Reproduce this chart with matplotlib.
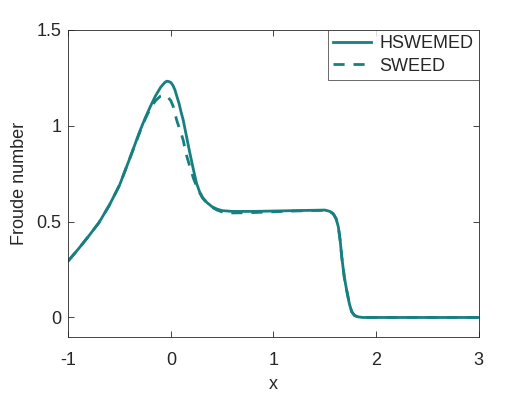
import matplotlib
matplotlib.use("Agg")
import matplotlib.pyplot as plt

x_hswemed = [-1.0, -0.9, -0.8, -0.7, -0.6, -0.5, -0.4, -0.3, -0.25, -0.2, -0.15, -0.1, -0.06, -0.04,
             -0.02, 0.0, 0.02, 0.04, 0.06, 0.08, 0.10, 0.12, 0.15, 0.186, 0.22, 0.25, 0.28, 0.31,
             0.35, 0.40, 0.45, 0.5, 0.6, 0.8, 1.0, 1.2, 1.4, 1.5, 1.55, 1.583, 1.61, 1.632, 1.65,
             1.665, 1.69, 1.713, 1.74, 1.762, 1.79, 1.826, 1.87, 2.5, 3.0]
y_hswemed = [0.295, 0.358, 0.425, 0.495, 0.585, 0.69, 0.83, 0.975, 1.04, 1.10, 1.155, 1.20, 1.225, 1.232,
             1.23, 1.225, 1.21, 1.186, 1.15, 1.115, 1.07, 1.03, 0.95, 0.855, 0.77, 0.70, 0.655, 0.625,
             0.60, 0.578, 0.565, 0.557, 0.553, 0.553, 0.555, 0.557, 0.559, 0.56, 0.553, 0.54, 0.515, 0.472, 0.40,
             0.316, 0.21, 0.142, 0.07, 0.03, 0.01, 0.003, 0.0, 0.0, 0.0]

x_sweed = [-1.0, -0.9, -0.8, -0.7, -0.6, -0.5, -0.4, -0.3, -0.25, -0.2, -0.15, -0.1, -0.07, -0.04,
           -0.016, 0.0, 0.023, 0.056, 0.08, 0.10, 0.12, 0.15, 0.186, 0.22, 0.25, 0.28, 0.31,
           0.35, 0.40, 0.45, 0.5, 0.6, 0.8, 1.0, 1.2, 1.4, 1.5, 1.55, 1.583, 1.61, 1.632, 1.65,
           1.665, 1.69, 1.713, 1.74, 1.762, 1.79, 1.826, 1.87, 2.5, 3.0]
y_sweed = [0.295, 0.358, 0.425, 0.495, 0.585, 0.69, 0.83, 0.97, 1.035, 1.09, 1.13, 1.155, 1.16, 1.155,
           1.14, 1.13, 1.10, 1.03, 0.99, 0.96, 0.925, 0.85, 0.785, 0.725, 0.685, 0.65, 0.622,
           0.597, 0.575, 0.56, 0.55, 0.545, 0.547, 0.551, 0.555, 0.558, 0.558, 0.553, 0.54, 0.515, 0.472, 0.40,
           0.316, 0.21, 0.142, 0.07, 0.03, 0.01, 0.003, 0.0, 0.0, 0.0]

x_ticks = [-1, 0, 1, 2, 3]
x_tick_labels = ["-1", "0", "1", "2", "3"]
y_ticks = [0, 0.5, 1, 1.5]
y_tick_labels = ["0", "0.5", "1", "1.5"]

plt.rcParams['font.family'] = ['Liberation Sans', 'DejaVu Sans']
color = '#177F80'
axcol = '#262626'
fs = 13

fig = plt.figure(figsize=(5.29, 3.97), dpi=100)
ax = fig.add_axes([0.129, 0.152, 0.776, 0.773])
ax.plot(x_hswemed, y_hswemed, '-', color=color, lw=2.0, label='HSWEMED',
        solid_joinstyle='round')
ax.plot(x_sweed, y_sweed, '--', color=color, lw=2.0, label='SWEED', dashes=(4, 3.2))
ax.set_xlim(-1, 3)
ax.set_ylim(-0.1, 1.5)
ax.set_xticks(x_ticks)
ax.set_xticklabels(x_tick_labels)
ax.set_yticks(y_ticks)
ax.set_yticklabels(y_tick_labels)
ax.tick_params(direction='in', top=True, right=True, length=4, width=0.6,
               colors=axcol, labelsize=fs)
ax.tick_params(axis='x', pad=11)
ax.tick_params(axis='y', pad=5)
for s in ax.spines.values():
    s.set_color(axcol)
    s.set_linewidth(0.6)
ax.set_xlabel('x', fontsize=fs, color=axcol, labelpad=5)
ax.set_ylabel('Froude number', fontsize=fs, color=axcol, labelpad=6)
leg = ax.legend(loc='upper right', fontsize=fs, frameon=True, fancybox=False,
                borderaxespad=0, handlelength=2.1, borderpad=0.3, labelspacing=0.3,
                handletextpad=0.45)
leg.get_frame().set_edgecolor(axcol)
leg.get_frame().set_linewidth(0.6)
for t in leg.get_texts():
    t.set_color(axcol)
fig.savefig('out.png', dpi=100)
